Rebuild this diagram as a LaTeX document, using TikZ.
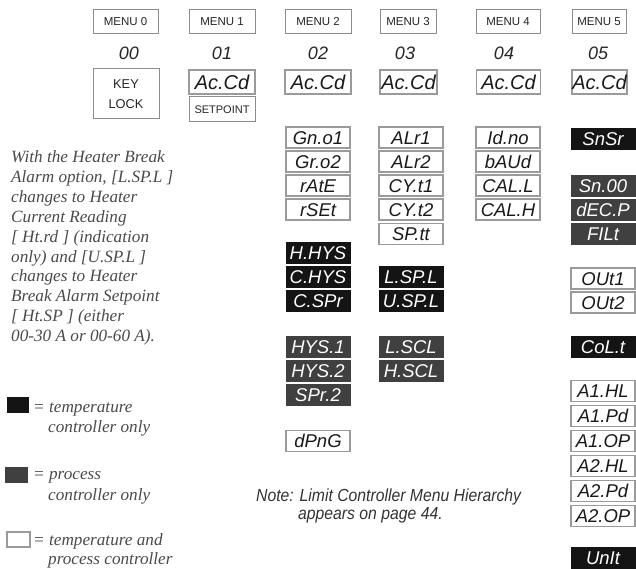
\documentclass[tikz,border=0pt]{standalone}
\usepackage{fontspec}
\setmainfont{Liberation Serif}
\newfontfamily\sansf{Liberation Sans}
\newfontfamily\notef[FakeStretch=0.9]{Liberation Sans}
\definecolor{hdr}{HTML}{8C8C8C}
\definecolor{wbd}{HTML}{9A9A9A}
\definecolor{proc}{HTML}{404040}
\definecolor{txtg}{HTML}{4A4A4A}
\begin{document}
\begin{tikzpicture}[x=1pt,y=-1pt,
  hdrbox/.style={draw=hdr,line width=1pt,fill=white,minimum height=24pt,inner sep=0pt,font=\sansf\fontsize{11.5}{13}\selectfont,text=black!85},
  dig/.style={inner sep=0pt,font=\sansf\itshape\fontsize{18}{18}\selectfont,text=black!85},
  disp/.style={minimum width=64pt,minimum height=21pt,inner sep=0pt,text height=13.5pt,text depth=0pt,font=\sansf\itshape\fontsize{18.5}{19}\selectfont},
  bigdisp/.style={minimum height=24pt,text height=14.5pt,font=\sansf\itshape\fontsize{20}{20}\selectfont},
  wd/.style={disp,draw=wbd,line width=1.2pt,fill=white,text=black!90},
  kd/.style={disp,fill=black!92,draw=black!92,line width=0.5pt,text=white},
  gd/.style={disp,fill=proc,draw=proc,line width=0.5pt,text=white},
  side/.style={anchor=base west,inner sep=0pt,font=\fontsize{17.2}{20}\selectfont\itshape,text=txtg},
  notetxt/.style={anchor=base west,inner sep=0pt,font=\notef\itshape\fontsize{17.5}{20}\selectfont,text=black!80}
]
\useasboundingbox (0,0) rectangle (636,569);

% menu headers
\node[hdrbox,minimum width=65pt] (m0) at (125.5,22) {MENU 0};
\node[hdrbox,minimum width=66pt] (m1) at (222,22) {MENU 1};
\node[hdrbox,minimum width=66pt] (m2) at (318,22) {MENU 2};
\node[hdrbox,minimum width=56pt] (m3) at (408,22) {MENU 3};
\node[hdrbox,minimum width=64pt] (m4) at (508,22) {MENU 4};
\node[hdrbox,minimum width=54pt] (m5) at (599,22) {MENU 5};

% menu numbers
\node[dig] (d0) at (129,53.5) {00};
\node[dig] (d1) at (222,53.5) {01};
\node[dig] (d2) at (318,53.5) {02};
\node[dig] (d3) at (405,53.5) {03};
\node[dig] (d4) at (504,53.5) {04};
\node[dig] (d5) at (598,53.5) {05};

% first row
\node[hdrbox,minimum width=66pt,minimum height=50pt,align=center,font=\sansf\fontsize{12.8}{20}\selectfont] (kl) at (126,94) {KEY\\LOCK};
\node[wd,bigdisp,minimum width=66pt] (a1) at (222,82) {Ac.Cd};
\node[hdrbox,minimum width=66pt,minimum height=25pt,font=\sansf\fontsize{11}{12}\selectfont] (sp) at (222,109.5) {SETPOINT};
\node[wd,bigdisp,minimum width=66pt] (a2) at (318,82) {Ac.Cd};
\node[wd,bigdisp,minimum width=57pt] (a3) at (408.5,82) {Ac.Cd};
\node[wd,bigdisp,minimum width=64pt] (a4) at (508.5,82) {Ac.Cd};
\node[wd,bigdisp,minimum width=55pt] (a5) at (599.5,82) {Ac.Cd};

% menu 2 column
\node[wd] (gno1) at (318,137.5) {Gn.o1};
\node[wd] (gro2) at (318,161.5) {Gr.o2};
\node[wd] (rate) at (318,185.5) {rAtE};
\node[wd] (rset) at (318,209.5) {rSEt};
\node[kd] (hhys) at (318,252.5) {H.HYS};
\node[kd] (chys) at (318,276.5) {C.HYS};
\node[kd] (cspr) at (318,300.5) {C.SPr};
\node[gd] (hys1) at (318,346.5) {HYS.1};
\node[gd] (hys2) at (318,370.5) {HYS.2};
\node[gd] (spr2) at (318,395) {SPr.2};
\node[wd] (dpng) at (318,441) {dPnG};

% menu 3 column
\node[wd] (alr1) at (411,137.5) {ALr1};
\node[wd] (alr2) at (411,161.5) {ALr2};
\node[wd] (cyt1) at (411,185.5) {CY.t1};
\node[wd] (cyt2) at (411,209.5) {CY.t2};
\node[wd] (sptt) at (411,234) {SP.tt};
\node[kd] (lspl) at (411,276.5) {L.SP.L};
\node[kd] (uspl) at (411,300.5) {U.SP.L};
\node[gd] (lscl) at (411,346.5) {L.SCL};
\node[gd] (hscl) at (411,370.5) {H.SCL};

% menu 4 column
\node[wd] (idno) at (508,137.5) {Id.no};
\node[wd] (baud) at (508,161.5) {bAUd};
\node[wd] (call) at (508,185.5) {CAL.L};
\node[wd] (calh) at (508,209.5) {CAL.H};

% menu 5 column
\node[kd] (snsr) at (603,138.5) {SnSr};
\node[gd] (sn00) at (603,185.5) {Sn.00};
\node[gd] (decp) at (603,209.5) {dEC.P};
\node[gd] (filt) at (603,234) {FILt};
\node[wd] (out1) at (603,278.5) {OUt1};
\node[wd] (out2) at (603,302.5) {OUt2};
\node[kd] (colt) at (603,346.5) {CoL.t};
\node[wd] (a1hl) at (603,391) {A1.HL};
\node[wd] (a1pd) at (603,416) {A1.Pd};
\node[wd] (a1op) at (603,441) {A1.OP};
\node[wd] (a2hl) at (603,466) {A2.HL};
\node[wd] (a2pd) at (603,491) {A2.Pd};
\node[wd] (a2op) at (603,516) {A2.OP};
\node[kd] (unit) at (603,557.5) {UnIt};

% side note
\node[side] (s1) at (11,163) {With the Heater Break};
\node[side] (s2) at (11,182.8) {Alarm option, [L.SP.L ]};
\node[side] (s3) at (11,202.6) {changes to Heater};
\node[side] (s4) at (11,222.4) {Current Reading};
\node[side] (s5) at (11,242.2) {[ Ht.rd ] (indication};
\node[side] (s6) at (11,262) {only) and [U.SP.L ]};
\node[side] (s7) at (11,281.8) {changes to Heater};
\node[side] (s8) at (11,301.6) {Break Alarm Setpoint};
\node[side] (s9) at (11,321.4) {[ Ht.SP ] (either};
\node[side] (s10) at (11,341.2) {00-30 A or 00-60 A).};

% legend
\node[fill=black!92,minimum width=22pt,minimum height=16pt,inner sep=0pt] (lk) at (18,405) {};
\node[side] (lk1) at (33,412) {= temperature};
\node[side] (lk2) at (48,432) {controller only};
\node[fill=proc,minimum width=23pt,minimum height=16pt,inner sep=0pt] (lg) at (16.5,475) {};
\node[side] (lg1) at (33,479) {= process};
\node[side] (lg2) at (48,500) {controller only};
\node[draw=wbd,line width=1.2pt,fill=white,minimum width=23pt,minimum height=15pt,inner sep=0pt] (lw) at (18.5,539.5) {};
\node[side] (lw1) at (33,545) {= temperature and};
\node[side] (lw2) at (48,564) {process controller};

% note
\node[notetxt] (n1) at (256,501) {Note: Limit Controller Menu Hierarchy};
\node[notetxt] (n2) at (298,519) {appears on page 44.};
\end{tikzpicture}
\end{document}
